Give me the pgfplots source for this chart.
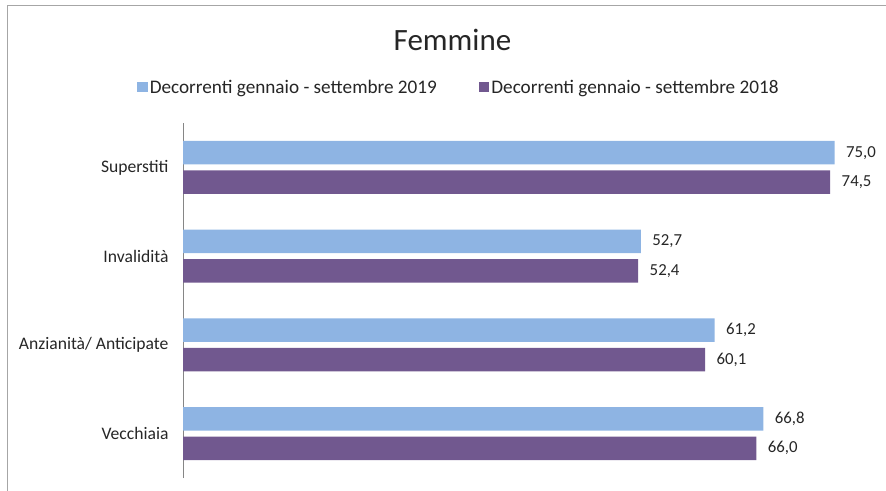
\documentclass[border=0pt]{standalone}
\usepackage{fontspec}
\setmainfont{Carlito}
\usepackage{pgfplots}
\pgfplotsset{compat=1.18}
\definecolor{blu19}{HTML}{8EB4E3}
\definecolor{vio18}{HTML}{71588F}
\definecolor{frame}{HTML}{A6A6A6}
\definecolor{axisgrey}{HTML}{868686}

\begin{document}
\begin{tikzpicture}
\path[use as bounding box] (0,0) rectangle (886bp,491bp);
\draw[frame, line width=1bp] (7bp,0bp) |- (886bp,485bp);
\node[anchor=base, font=\fontsize{31bp}{36bp}\selectfont, text=black!85] at (452.5bp,440.3bp) {Femmine};

\begin{axis}[
  at={(183bp,13bp)}, anchor=south west,
  scale only axis, width=695bp, height=355bp,
  xbar, bar width=0.265,
  xmin=0, xmax=80, ymin=-0.5, ymax=3.5,
  axis y line*=left, axis x line=none,
  y axis line style={axisgrey, line width=1bp},
  ytick={0,1,2,3},
  yticklabels={Vecchiaia, {Anzianità/ Anticipate}, Invalidità, Superstiti},
  major tick length=0pt,
  yticklabel style={font=\fontsize{17.6bp}{20bp}\selectfont, text=black!85, xshift=-11bp},
  nodes near coords, point meta=x,
  nodes near coords align={horizontal},
  every node near coord/.append style={font=\fontsize{16.8bp}{19bp}\selectfont, text=black!85, xshift=8bp},
  /pgf/number format/.cd, fixed, fixed zerofill, precision=1, use comma, assume math mode=true,
  /pgfplots/.cd,
  legend columns=2,
  legend style={at={(0.397,1.101)}, anchor=center, draw=none,
    font=\fontsize{19.2bp}{22bp}\selectfont, text=black!85,
    /tikz/every even column/.append style={column sep=40bp}},
  legend image code/.code={\fill[#1] (-3bp,-5bp) rectangle (7.5bp,5.5bp);},
]
\addplot[fill=blu19, draw=none, bar shift=0.165] coordinates {(66.8,0) (61.2,1) (52.7,2) (75.0,3)};
\addlegendentry{Decorrenti gennaio - settembre 2019}
\addplot[fill=vio18, draw=none, bar shift=-0.165] coordinates {(66.0,0) (60.1,1) (52.4,2) (74.5,3)};
\addlegendentry{Decorrenti gennaio - settembre 2018}
\end{axis}
\end{tikzpicture}
\end{document}
